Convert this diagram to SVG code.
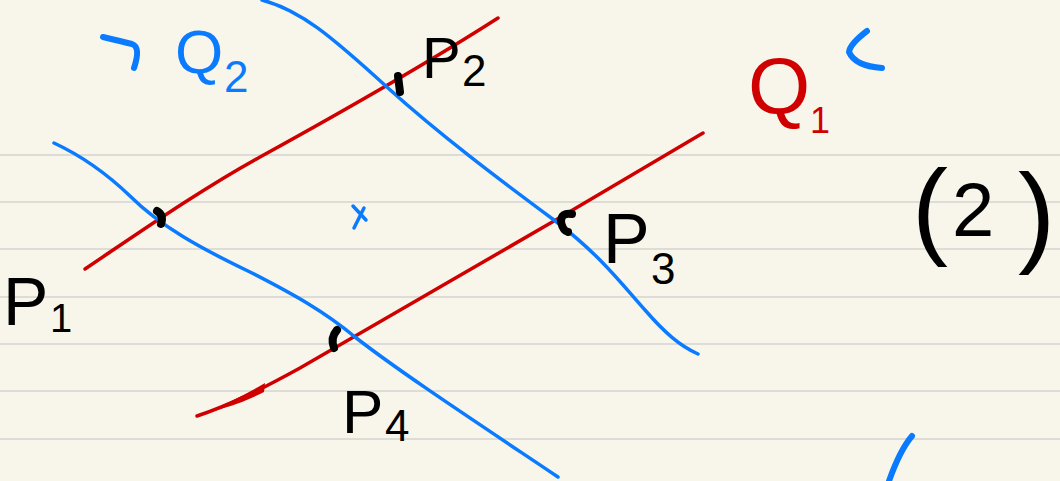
<svg xmlns="http://www.w3.org/2000/svg" width="1060" height="481" viewBox="0 0 1060 481">
  <style>
    .rule{stroke:#dddcd6;stroke-width:2;fill:none}
    .red{stroke:#d10000;stroke-width:3.5;fill:none;stroke-linecap:round;stroke-linejoin:round}
    .blue{stroke:#0a7bff;stroke-width:3.5;fill:none;stroke-linecap:round;stroke-linejoin:round}
    .bmark{stroke:#0a7bff;stroke-width:6;fill:none;stroke-linecap:round;stroke-linejoin:round}
    .dot{stroke:#000;stroke-width:8;fill:none;stroke-linecap:round;stroke-linejoin:round}
    .lbl{font-family:"Liberation Sans","DejaVu Sans",sans-serif}
    .k{fill:#000}
    .r{fill:#d10000}
    .b{fill:#0a7bff}
  </style>
  <rect width="1060" height="481" fill="#f8f6eb"/>
  <g id="ruled-lines">
    <line class="rule" x1="0" y1="155" x2="1060" y2="155"/>
    <line class="rule" x1="0" y1="202" x2="1060" y2="202"/>
    <line class="rule" x1="0" y1="249" x2="1060" y2="249"/>
    <line class="rule" x1="0" y1="297" x2="1060" y2="297"/>
    <line class="rule" x1="0" y1="344" x2="1060" y2="344"/>
    <line class="rule" x1="0" y1="391" x2="1060" y2="391"/>
    <line class="rule" x1="0" y1="439" x2="1060" y2="439"/>
  </g>
  <g id="curves">
    <path id="red-upper" class="red" d="M85,269 C140,232 200,190 260,157 S420,68 498,18"/>
    <path id="red-lower" class="red" d="M197,416 C230,405 260,390 300,368 L554,221 L703,133"/>
    <path id="red-lower-thick" fill="#d10000" d="M203,413 Q235,401 265,383 L264,392 Q235,407 203,413 Z"/>
    <path id="blue-upper" class="blue" d="M262,0 C300,10 330,35 388,88 C440,135 500,180 554,220 C600,255 620,282 645,310 C665,333 680,346 698,354"/>
    <path id="blue-lower" class="blue" d="M54,143 C82,156 105,172 130,196 C160,226 200,248 250,272 C295,295 325,312 355,337 C400,372 470,418 558,477"/>
    <path id="blue-stub" class="bmark" d="M912,436 Q900,450 889,481"/>
  </g>
  <g id="intersection-marks">
    <path class="dot" d="M157,211 Q164,215 161,224"/>
    <path class="dot" d="M398,76 L400,92"/>
    <path class="dot" d="M572,214 Q561,212 561,222 Q563,231 568,232"/>
    <path class="dot" d="M337,330 Q330,338 334,348"/>
  </g>
  <g id="center-mark">
    <path class="bmark" style="stroke-width:3.5" d="M353,206 L366,220 M364,208 L354,228"/>
  </g>
  <g id="label-Q2">
    <path class="bmark" d="M103,37 Q120,41 132,44 Q141,47 134,68"/>
    <text class="lbl b" x="175" y="73" font-size="62">Q<tspan x="224" y="92" font-size="44">2</tspan></text>
  </g>
  <g id="label-Q1">
    <text class="lbl r" x="748" y="114" font-size="80">Q<tspan x="810" y="133" font-size="36">1</tspan></text>
    <path class="bmark" d="M867,31 Q850,44 849,52 Q855,66 882,68"/>
  </g>
  <g id="label-P1">
    <text class="lbl k" x="3" y="325" font-size="68">P<tspan x="50" y="332" font-size="40">1</tspan></text>
  </g>
  <g id="label-P2">
    <text class="lbl k" x="422" y="78" font-size="58">P<tspan x="462" y="86" font-size="44">2</tspan></text>
  </g>
  <g id="label-P3">
    <text class="lbl k" x="603" y="263" font-size="70">P<tspan x="651" y="284" font-size="44">3</tspan></text>
  </g>
  <g id="label-P4">
    <text class="lbl k" x="342" y="433" font-size="62">P<tspan x="385" y="441" font-size="44">4</tspan></text>
  </g>
  <g id="label-2">
    <text class="lbl k" x="912" y="245" font-size="108">(<tspan x="952" y="236" font-size="76">2</tspan><tspan x="1018" y="252" font-size="112">)</tspan></text>
  </g>
</svg>
